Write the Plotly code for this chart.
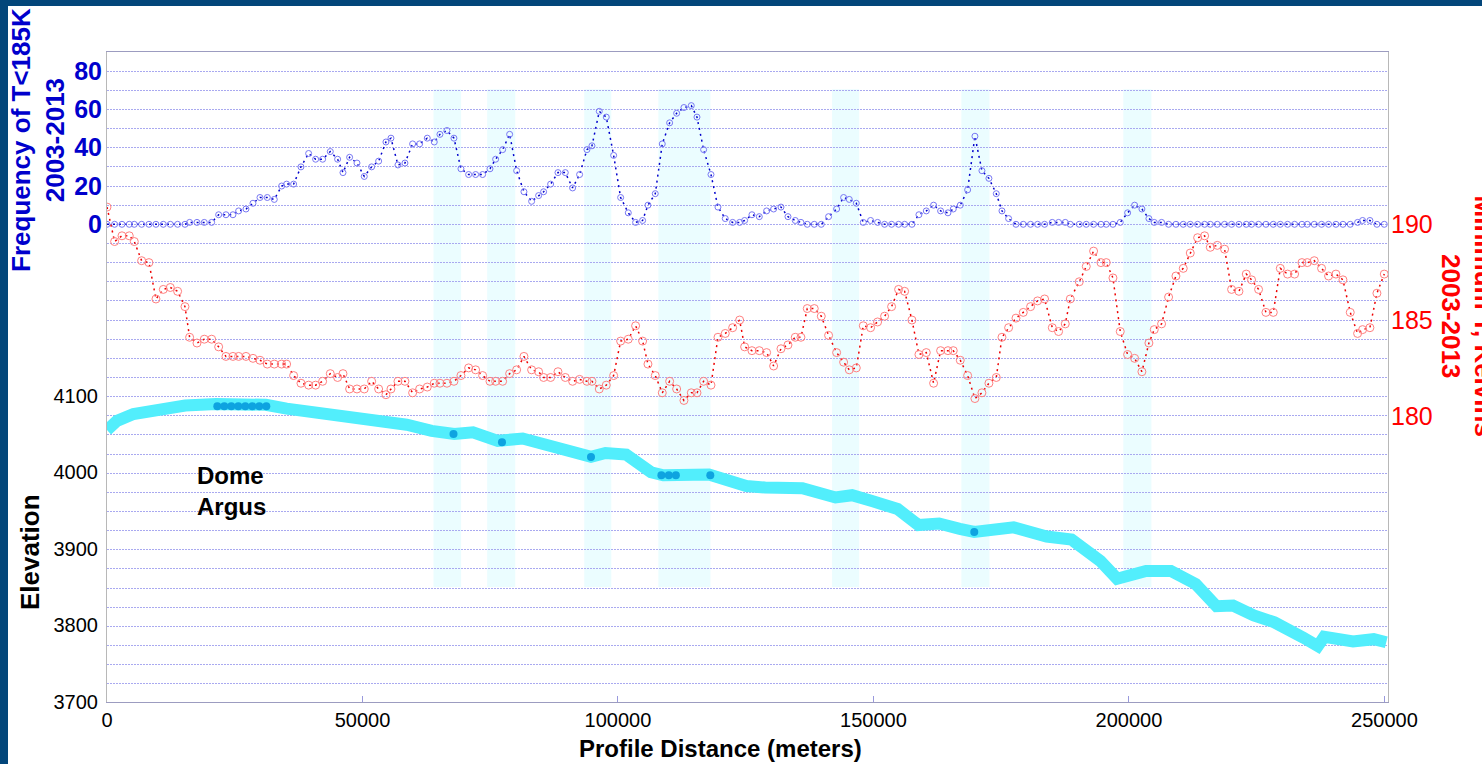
import plotly.graph_objects as go

# ---------------- data ----------------
distance_m = [
    0, 1490, 2930, 4360, 5340, 6780, 8210, 9580, 11020, 12390, 13820, 15260, 16170, 17610, 19040,
    20480, 21850, 23280, 24650, 25760, 27200, 28570, 29940, 31370, 32740, 34180, 35150, 36520, 37960,
    39460, 40830, 42200, 43700, 45130, 46180, 47480, 48920, 50350, 51790, 53160, 54590, 55570, 56940,
    58310, 59810, 61180, 62680,
    64050, 65160, 66530, 67900, 69270, 70770, 72140, 73510, 74950, 76060, 77430, 78800, 80170, 81600,
    83100, 84470, 85450, 86820, 88260, 89690, 91120, 92490, 93930, 94910, 96340, 97710, 99150, 100520,
    102020, 103450, 104820, 105870, 107300, 108670, 110110, 111480, 112910, 114350, 115460, 116760,
    118200, 119570, 121000, 122440, 123810, 124790,
    126220, 127660, 129090, 130460, 131900, 133270, 134700, 135810, 137050, 138420, 139790, 141220,
    142790, 144160, 145270, 146640, 148010, 149440, 150810, 152180, 153550, 154920, 156100, 157530,
    158900, 160340, 161770, 163140, 164580, 165620, 166990, 168430, 169860, 171230, 172600, 174040,
    175150, 176450, 177890, 179320, 180750, 182120, 183490, 185000, 186230, 187540, 188520,
    190280, 191650, 193080, 194520, 195560, 196870, 198300, 199740, 201110, 202540, 203910, 204960,
    206390, 207760, 209200, 210630, 212000, 213440, 214810, 215920, 217290, 218720, 220090, 221530,
    222960, 224000, 225370, 226810, 228250, 229620, 231050, 232420, 233860, 234900, 236270, 237700,
    239070, 240510, 241880, 243310, 244750, 245730, 247160, 248530, 249970,
]

freq_below_185K = [
    0, 0, 0, 0, 0, 0, 0, 0, 0, 0, 0, 0, 1, 1, 1, 1, 5, 5, 5, 7, 8, 11, 14, 14, 13, 20, 21, 21,
    30, 37, 34, 34, 38, 34, 27, 35, 32, 25, 30, 33, 43, 45, 31, 32, 42, 42, 45,
    43, 47, 49, 45, 29, 26, 26, 26, 29, 34, 39, 47, 28, 17, 12, 15, 17, 21, 27, 27, 19, 26, 39, 41,
    59, 56, 36, 14, 6, 1, 2, 10, 16, 42, 53, 58, 61, 62, 56, 39, 26, 9, 3, 1, 1, 2,
    5, 4, 7, 8, 9, 4, 2, 1, 0, 0, 0, 4, 8, 14, 13, 11, 1, 2, 1, 0, 0, 0, 0, 0, 5, 7, 10, 7, 6, 8,
    10, 18, 46, 28, 24, 16, 7, 3, 0, 0, 0, 0, 0, 1, 1, 1, 0,
    0, 0, 0, 0, 0, 0, 1, 6, 10, 8, 3, 1, 1,
    0, 0, 0, 0, 0, 0, 0, 0, 0, 0, 0, 0, 0, 0, 0, 0, 0, 0, 0, 0, 0, 0, 0, 0, 0, 0, 0,
    1, 2, 2, 0, 0,
]

min_temp_K = [
    190.9, 189.1, 189.4, 189.4, 189.1, 188.1, 188.0, 186.1, 186.6, 186.7, 186.5, 185.7, 184.1, 183.8,
    184.0, 184.0, 183.6, 183.1, 183.1, 183.1, 183.1, 183.0, 182.9, 182.7, 182.7, 182.7, 182.7, 182.1,
    181.7, 181.6, 181.6, 181.8, 182.2, 182.0, 182.2, 181.4, 181.4, 181.4, 181.8, 181.4, 181.1, 181.4,
    181.8, 181.8, 181.2, 181.4, 181.5,
    181.7, 181.7, 181.7, 181.8, 182.1, 182.5, 182.4, 182.1, 181.8, 181.8, 181.8, 182.2, 182.4, 183.1,
    182.4, 182.3, 182.0, 182.0, 182.3, 182.0, 181.8, 181.9, 181.8, 181.8, 181.4, 181.6, 182.1, 183.9,
    184.0, 184.7, 183.9, 182.7, 182.1, 181.2, 181.8, 181.4, 180.8, 181.2, 181.2, 181.8, 181.6, 184.1,
    184.3, 184.6, 185.0, 183.6,
    183.4, 183.4, 183.3, 182.6, 183.5, 183.7, 184.1, 184.1, 185.6, 185.6, 185.2, 184.2, 183.3, 182.8,
    182.4, 182.5, 184.7, 184.6, 184.9, 185.2, 185.7, 186.6, 186.5, 185.0, 183.2, 183.3, 181.7, 183.4,
    183.4, 183.4, 182.9, 182.1, 180.9, 181.2, 181.7, 182.0, 184.1, 184.6, 185.1, 185.4, 185.7, 186.0,
    186.1, 184.6, 184.4, 184.8, 186.1,
    187.0, 187.8, 188.6, 188.0, 188.0, 187.2, 184.4, 183.2, 183.0, 182.3, 183.8, 184.5, 184.8, 186.2,
    187.3, 187.7, 188.5, 189.3, 189.4, 188.8, 188.9, 188.7, 186.6, 186.5, 187.4, 187.1, 186.6, 185.4,
    185.4, 187.7, 187.4, 187.4, 188.0, 188.0, 188.1, 187.7, 187.3, 187.4, 187.1, 185.4, 184.3, 184.5,
    184.6, 186.4, 187.4,
]

elev_dist_m = [
    0, 1940, 5170, 9220, 15300, 21370, 31100, 35150, 40820, 47300, 52980, 58650, 63530, 67970,
    71630, 76480, 81350, 84580, 90260, 94720, 97560, 101610, 106460, 108890, 117810, 125110,
    128790, 136090, 142570, 145820, 149870, 154720, 158790, 162840, 166890, 169730, 177420,
    183900, 188770, 192000, 194430, 197680, 203350, 208210, 213080, 217130, 220380, 224430,
    228480, 234140, 236970, 238210, 240630, 243860, 247910, 250360,
]
elevation_m = [
    4055, 4067, 4076, 4081, 4087, 4089, 4088, 4083, 4078, 4073, 4068, 4062, 4054, 4050,
    4052, 4041, 4044, 4039, 4028, 4020, 4025, 4023, 4000, 3996, 3997, 3982,
    3980, 3979, 3967, 3970, 3962, 3952, 3931, 3933, 3926, 3922, 3928,
    3916, 3912, 3897, 3884, 3861, 3871, 3871, 3854, 3825, 3826, 3813,
    3804, 3784, 3773, 3785, 3784, 3779, 3782, 3778,
]

site_dist_m = [21590, 22960, 24330, 25700, 27070, 28440, 29810, 31180,
               67810, 77300, 94720, 108500, 109950, 111330, 118070, 169730]
site_elev_m = [4086, 4086, 4086, 4086, 4086, 4086, 4086, 4086,
               4050, 4039, 4020, 3996, 3996, 3996, 3996, 3922]

band_start_m = [63900, 74400, 93400, 107900, 141900, 167200, 198900]
band_end_m = [69300, 79900, 98700, 118100, 147200, 172700, 204400]
band_elev_bottom = 3850
band_elev_top = 4500

x_tick_vals = [0, 50000, 100000, 150000, 200000, 250000]
x_tick_text = ["0", "50000", "100000", "150000", "200000", "250000"]
elev_tick_vals = [3700, 3800, 3900, 4000, 4100]
freq_grid_vals = list(range(-250, 91, 10))
freq_label_vals = [0, 20, 40, 60, 80]
freq_tick_text = [str(v) if v in freq_label_vals else "" for v in freq_grid_vals]
temp_tick_vals = [180, 185, 190]

FONT = "Liberation Sans, Arial, sans-serif"

# ---------------- figure ----------------
fig = go.Figure()

fig.add_trace(go.Scatter(
    x=elev_dist_m, y=elevation_m, mode="lines", yaxis="y",
    line=dict(color="#52eefc", width=12), hoverinfo="skip"))
fig.add_trace(go.Scatter(
    x=site_dist_m, y=site_elev_m, mode="markers", yaxis="y",
    marker=dict(color="#0ea3e0", size=8), hoverinfo="skip"))
fig.add_trace(go.Scatter(
    x=distance_m, y=freq_below_185K, mode="lines+markers", yaxis="y2",
    line=dict(color="#0000cc", width=1.5, dash="2px,4px"),
    marker=dict(symbol="circle-open", size=6, color="#7878f4", line=dict(width=1))))
fig.add_trace(go.Scatter(
    x=distance_m, y=min_temp_K, mode="lines+markers", yaxis="y3",
    line=dict(color="#ee0000", width=1.5, dash="2px,4px"),
    marker=dict(symbol="circle-open", size=8, color="#ff8080", line=dict(width=1))))

shapes = []
for x0, x1 in zip(band_start_m, band_end_m):
    shapes.append(dict(type="rect", xref="x", yref="y", x0=x0, x1=x1,
                       y0=band_elev_bottom, y1=band_elev_top,
                       fillcolor="#ebfdff", line=dict(width=0), layer="below"))
# dark blue frame of the slide (top and left)
shapes.append(dict(type="rect", xref="paper", yref="paper", xsizemode="pixel", ysizemode="pixel",
                   xanchor=0, yanchor=1, x0=-120, x1=1400, y0=46, y1=70,
                   fillcolor="#03467a", line=dict(width=0), layer="above"))
shapes.append(dict(type="rect", xref="paper", yref="paper", xsizemode="pixel", ysizemode="pixel",
                   xanchor=0, yanchor=0, x0=-120, x1=-99, y0=-100, y1=760,
                   fillcolor="#03467a", line=dict(width=0), layer="above"))

annotations = [
    dict(text="<b>Frequency of T&lt;185K<br>2003-2013</b>", xref="paper", yref="paper",
         x=-0.0539, y=0.8646, xanchor="center", yanchor="middle", textangle=-90,
         showarrow=False, font=dict(family=FONT, size=26, color="#0000cc")),
    dict(text="<b>Elevation</b>", xref="paper", yref="paper",
         x=-0.0601, y=0.2308, xanchor="center", yanchor="middle", textangle=-90,
         showarrow=False, font=dict(family=FONT, size=26, color="black")),
    dict(text="<b>Minimum T, Kelvins<br>2003-2013</b>", xref="paper", yref="paper",
         x=1.0620, y=0.5938, xanchor="center", yanchor="middle", textangle=90,
         showarrow=False, font=dict(family=FONT, size=26, color="#ff0000")),
    dict(text="<b>Profile Distance (meters)</b>", xref="paper", yref="paper",
         x=0.4793, y=-0.0708, xanchor="center", yanchor="middle",
         showarrow=False, font=dict(family=FONT, size=24, color="black")),
    dict(text="<b>Dome<br>Argus</b>", xref="x", yref="y", x=17300, y=3975,
         xanchor="left", yanchor="middle", align="left",
         showarrow=False, font=dict(family=FONT, size=24, color="black")),
]

fig.update_layout(
    width=1482, height=764,
    margin=dict(l=107, r=94, t=52, b=62),
    paper_bgcolor="white", plot_bgcolor="white",
    showlegend=False,
    font=dict(family=FONT),
    shapes=shapes, annotations=annotations,
    xaxis=dict(range=[0, 250700], tickvals=x_tick_vals, ticktext=x_tick_text,
               ticks="inside", ticklen=6, tickcolor="#9999dd",
               showgrid=False, zeroline=False, showline=True, linecolor="#9c9cc0",
               mirror=True, tickfont=dict(size=20, color="black")),
    yaxis=dict(range=[3700, 4548.6], tickvals=elev_tick_vals, showgrid=False,
               zeroline=False, showline=True, linecolor="#b8b8b8", mirror=True,
               ticks="", ticklabelstandoff=4, tickfont=dict(size=20, color="black")),
    yaxis2=dict(range=[-249.5, 90], overlaying="y", side="left",
                tickvals=freq_grid_vals, ticktext=freq_tick_text,
                showgrid=True, gridcolor="#a9a9f0", griddash="2px,1px", gridwidth=1,
                zeroline=False, showline=False, ticks="", ticklabelstandoff=4,
                tickfont=dict(size=25, color="#0000cc", weight="bold")),
    yaxis3=dict(range=[165.05, 199.0], overlaying="y", side="right",
                tickvals=temp_tick_vals, showgrid=False, zeroline=False, showline=False,
                ticks="", ticklabelstandoff=2,
                tickfont=dict(size=25, color="#ff0000")),
)

fig.write_html(
    "out.html",
    config={"displayModeBar": False},
    post_script="document.body.style.margin='0';document.body.style.padding='0';"
                "document.documentElement.style.overflow='hidden';",
)
